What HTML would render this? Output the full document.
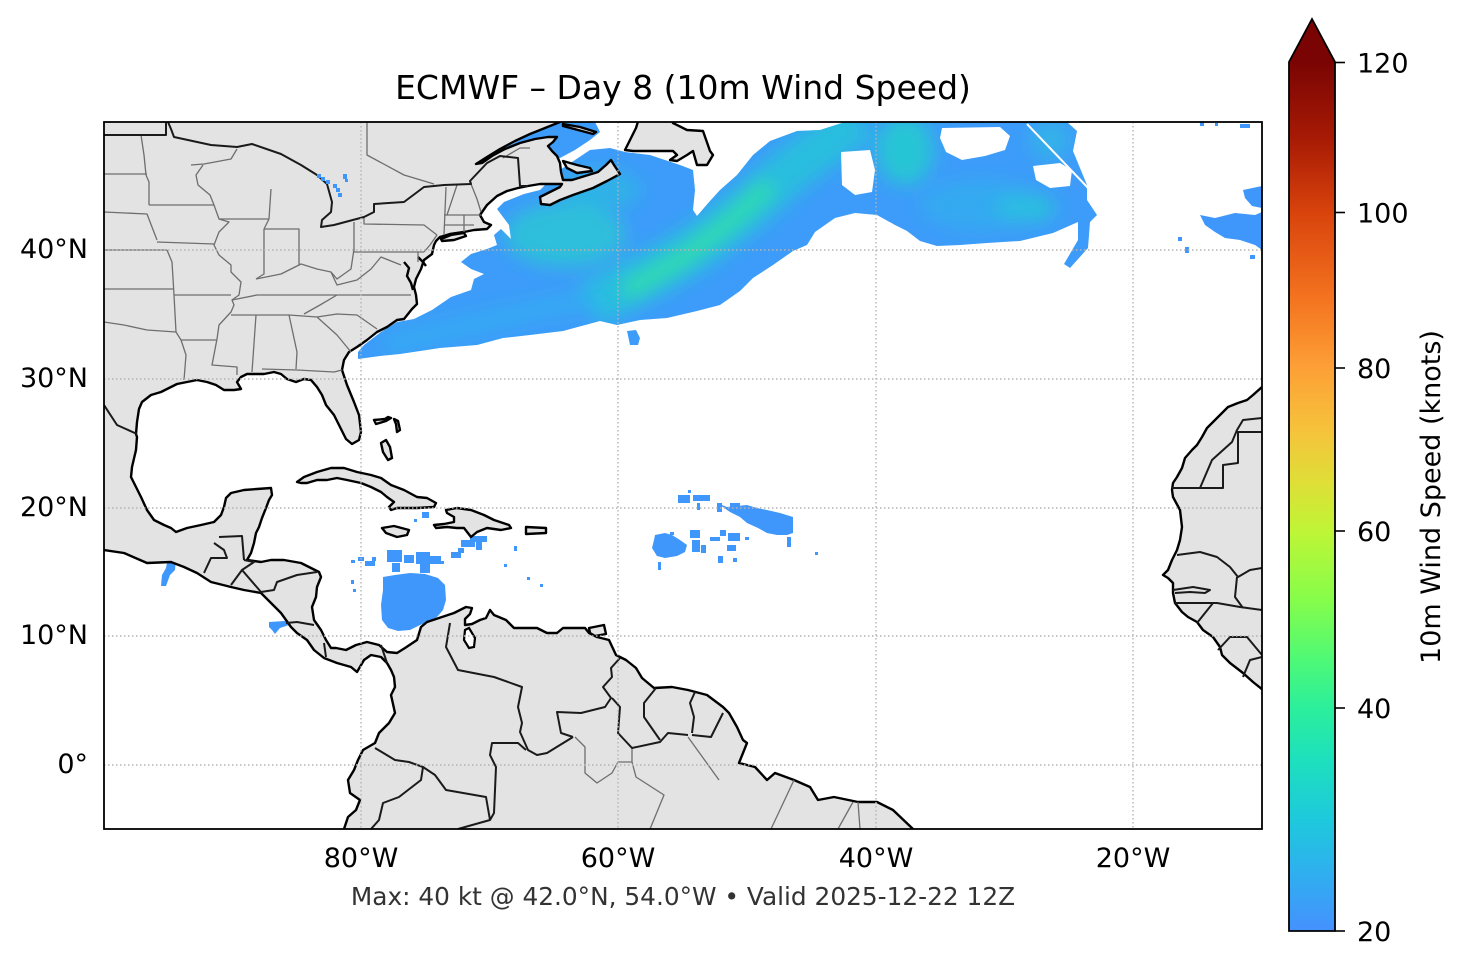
<!DOCTYPE html>
<html><head><meta charset="utf-8"><style>
html,body{margin:0;padding:0;background:#fff;}
svg{display:block;}
text{font-family:"DejaVu Sans","Liberation Sans",sans-serif;}
</style></head><body>
<svg width="1466" height="969" viewBox="0 0 1466 969" xmlns="http://www.w3.org/2000/svg">
<defs>
<clipPath id="ax"><rect x="104" y="122" width="1158" height="707"/></clipPath>
<clipPath id="wc"><polygon points="358,359 358,352 364,345 381,332 397,322 414,319 424,314 432,310 451,297 471,290 474,279 484,274 471,269 461,262 471,254 487,249 497,245 494,235 501,229 511,239 509,225 497,209 504,202 524,194 540,190 560,170 575,160 590,150 610,148 625,152 650,155 680,165 693,170 695,190 693,210 697,216 710,201 720,190 737,175 753,155 770,141 797,131 820,130 845,122 1067,122 1077,131 1073,151 1080,168 1087,185 1087,200 1097,215 1090,222 1088,248 1070,268 1064,264 1078,240 1078,222 1053,233 1020,241 987,243 960,245 937,246 920,241 907,231 895,225 877,215 855,213 835,218 815,232 807,245 793,251 773,265 753,278 740,291 720,305 697,311 667,318 640,320 617,325 600,321 563,331 530,335 503,338 477,345 440,348 420,351 400,354 380,356"/></clipPath>
<filter id="bl" x="-50%" y="-50%" width="200%" height="200%"><feGaussianBlur stdDeviation="9"/></filter>
<linearGradient id="cb" x1="0" y1="0" x2="0" y2="1">
<stop offset="0" stop-color="#7a0403"/>
<stop offset="0.090" stop-color="#a81b05"/>
<stop offset="0.173" stop-color="#d8430c"/>
<stop offset="0.274" stop-color="#f47420"/>
<stop offset="0.352" stop-color="#fda036"/>
<stop offset="0.423" stop-color="#f6c23b"/>
<stop offset="0.481" stop-color="#e0dd37"/>
<stop offset="0.540" stop-color="#bff536"/>
<stop offset="0.619" stop-color="#86fd4a"/>
<stop offset="0.688" stop-color="#4ef976"/>
<stop offset="0.743" stop-color="#2cef9b"/>
<stop offset="0.803" stop-color="#1de0bd"/>
<stop offset="0.872" stop-color="#1ec9dc"/>
<stop offset="0.941" stop-color="#31acf1"/>
<stop offset="1" stop-color="#4591fd"/>
</linearGradient>
</defs>
<rect x="0" y="0" width="1466" height="969" fill="#fff"/>

<g clip-path="url(#ax)">
<g fill="#3d9cf9">
<polygon points="358,359 358,352 364,345 381,332 397,322 414,319 424,314 432,310 451,297 471,290 474,279 484,274 471,269 461,262 471,254 487,249 497,245 494,235 501,229 511,239 509,225 497,209 504,202 524,194 540,190 560,170 575,160 590,150 610,148 625,152 650,155 680,165 693,170 695,190 693,210 697,216 710,201 720,190 737,175 753,155 770,141 797,131 820,130 845,122 1067,122 1077,131 1073,151 1080,168 1087,185 1087,200 1097,215 1090,222 1088,248 1070,268 1064,264 1078,240 1078,222 1053,233 1020,241 987,243 960,245 937,246 920,241 907,231 895,225 877,215 855,213 835,218 815,232 807,245 793,251 773,265 753,278 740,291 720,305 697,311 667,318 640,320 617,325 600,321 563,331 530,335 503,338 477,345 440,348 420,351 400,354 380,356"/>
<polygon points="500,150 520,140 540,128 552,122 595,122 600,132 590,140 575,150 560,158 540,160 515,155"/>
<polygon points="627,331 636,330 640,338 638,345 630,345"/>
</g>
<g clip-path="url(#wc)">
<g filter="url(#bl)">
<path d="M590,305 L650,275 L700,245 L745,210 L790,170 L830,140 L860,118" stroke="#22c8d6" stroke-width="46" fill="none" opacity="0.75"/>
<path d="M625,292 L680,260 L730,222 L770,185" stroke="#30e2a4" stroke-width="18" fill="none" opacity="0.85"/>
<path d="M385,345 L440,332 L500,318 L560,305 L600,298" stroke="#2db5ee" stroke-width="18" fill="none" opacity="0.6"/>
<ellipse cx="565" cy="235" rx="60" ry="32" fill="#26cbd0" opacity="0.75"/>
<ellipse cx="600" cy="190" rx="40" ry="20" fill="#2ac0dc" opacity="0.6"/>
<ellipse cx="905" cy="150" rx="28" ry="35" fill="#20d0cc" opacity="0.8"/>
<ellipse cx="1025" cy="208" rx="30" ry="14" fill="#22cdd0" opacity="0.8"/>
<ellipse cx="980" cy="205" rx="60" ry="25" fill="#2eb8ea" opacity="0.5"/>
<ellipse cx="1050" cy="140" rx="20" ry="20" fill="#2cc0e0" opacity="0.6"/>
</g>
</g>
<g fill="#fff">
<polygon points="942,128 1000,127 1010,136 1005,150 985,156 962,160 946,152 940,138"/>
<polygon points="1033,166 1060,163 1072,170 1070,186 1050,188 1036,180"/>
<polygon points="841,152 870,150 875,170 872,192 855,195 842,185"/>
</g>
<line x1="1027" y1="124" x2="1090" y2="190" stroke="#fff" stroke-width="2"/>

<g fill="#3f97fb">
<polygon points="1243,190 1262,186 1262,208 1252,206 1245,198"/>
<polygon points="1200,215 1215,218 1235,213 1255,215 1262,212 1262,250 1255,245 1240,240 1225,238 1215,232 1205,225"/>
<rect x="1178" y="237" width="4" height="4"/><rect x="1185" y="247" width="4" height="6"/><rect x="1250" y="255" width="5" height="4"/>
<rect x="1200" y="122" width="4" height="4"/><rect x="1215" y="123" width="3" height="3"/><rect x="1240" y="124" width="10" height="4"/>
<polygon points="655,535 665,533 672,535 680,540 687,545 685,552 677,556 665,558 657,556 652,548 654,540"/>
<polygon points="717,503 727,507 747,505 757,508 767,510 780,513 793,517 793,533 787,535 777,535 767,533 758,528 747,523 740,517 730,512"/>
<rect x="688" y="490" width="3" height="3"/><rect x="678" y="495" width="12" height="8"/><rect x="693" y="495" width="17" height="6"/>
<rect x="697" y="503" width="3" height="7"/><rect x="717" y="503" width="5" height="9"/><rect x="730" y="503" width="10" height="8"/>
<rect x="690" y="530" width="10" height="8"/><rect x="692" y="540" width="8" height="12"/><rect x="701" y="545" width="5" height="8"/>
<rect x="710" y="537" width="10" height="4"/><rect x="720" y="530" width="6" height="6"/><rect x="728" y="533" width="12" height="8"/>
<rect x="727" y="545" width="9" height="6"/><rect x="718" y="556" width="5" height="7"/><rect x="733" y="558" width="4" height="4"/>
<rect x="745" y="537" width="4" height="3"/><rect x="787" y="537" width="4" height="10"/><rect x="815" y="552" width="3" height="3"/>
<rect x="658" y="562" width="3" height="8"/><rect x="670" y="532" width="4" height="3"/>
<polygon points="383,577 395,575 410,573 425,574 438,578 445,585 446,600 443,610 437,617 428,622 420,625 410,630 398,631 388,628 382,620 381,605 383,590"/>
<rect x="351" y="560" width="4" height="3"/><rect x="358" y="557" width="6" height="4"/><rect x="365" y="561" width="10" height="5"/>
<rect x="372" y="557" width="4" height="4"/><rect x="351" y="580" width="3" height="4"/><rect x="353" y="589" width="3" height="3"/>
<rect x="387" y="550" width="15" height="12"/><rect x="404" y="555" width="10" height="8"/><rect x="416" y="552" width="14" height="12"/>
<rect x="430" y="556" width="11" height="8"/><rect x="392" y="563" width="8" height="9"/><rect x="420" y="564" width="10" height="9"/>
<rect x="451" y="552" width="10" height="6"/><rect x="458" y="548" width="6" height="5"/><rect x="461" y="540" width="14" height="7"/>
<rect x="470" y="536" width="17" height="6"/><rect x="476" y="542" width="6" height="8"/><rect x="422" y="512" width="7" height="6"/>
<rect x="414" y="519" width="3" height="3"/><rect x="514" y="546" width="3" height="5"/><rect x="504" y="564" width="3" height="3"/>
<rect x="527" y="577" width="3" height="3"/><rect x="540" y="584" width="3" height="3"/><rect x="441" y="561" width="3" height="3"/>
<polygon points="168,558 176,559 175,570 170,575 166,586 161,586 162,575 166,568"/>
<polygon points="269,622 285,621 291,619 289,625 280,628 275,634 272,630 269,627"/>
</g>

<g fill="#e3e3e3" stroke="#000" stroke-width="2.4" stroke-linejoin="round">
<polygon points="90,110 578,110 560,122 545,128 530,134 515,141 500,149 487,157 476,164 482,163 492,156 505,149 520,143 535,139 548,137 557,137 553,142 548,146 552,151 557,156 560,163 561,172 563,180 572,180 585,176 598,172 606,165 611,160 614,165 620,174 607,181 593,188 573,195 560,200 550,205 541,204 540,197 550,192 560,187 562,184 550,184 540,184 528,186 518,188 507,191 497,196 487,205 480,215 484,222 491,225 487,229 474,230 464,232 450,234 440,237 436,241 434,245 432,254 424,260 421,269 416,279 414,287 416,295 417,304 412,309 404,319 397,320 387,327 377,332 367,340 357,347 349,352 344,360 342,370 347,385 354,402 359,415 361,432 359,440 352,444 346,439 341,429 334,415 326,405 322,395 317,387 311,380 304,379 296,382 287,379 281,374 274,372 264,374 247,374 241,377 237,382 241,389 234,390 224,390 216,385 207,382 197,380 187,382 177,384 171,387 161,392 151,395 142,402 139,409 137,422 136,434 137,437 136,450 132,467 131,477 136,487 141,497 147,510 154,520 164,525 171,528 176,532 187,528 201,525 214,522 221,515 224,507 226,498 231,493 244,490 257,489 271,488 272,495 269,500 266,508 262,518 259,527 256,533 254,543 251,553 247,560 261,562 271,560 284,560 301,563 311,568 319,572 321,577 317,587 316,597 312,607 314,620 321,630 326,640 331,648 336,648 346,650 356,645 367,642 379,645 387,652 397,653 405,648 417,640 421,627 427,622 439,618 454,613 466,607 472,608 470,614 465,619 465,625 472,624 480,620 486,618 490,610 494,615 506,620 514,628 526,628 537,628 547,633 557,633 563,628 585,628 589,633 597,637 609,640 616,655 626,660 636,668 642,678 654,688 672,687 688,690 707,695 723,707 729,713 737,727 743,740 747,743 739,763 755,767 767,780 775,773 794,780 810,787 818,800 834,797 858,802 877,802 893,810 913,829 918,840 340,840 344,829 348,817 356,810 360,800 350,793 348,780 354,770 358,760 363,750 375,743 379,733 389,723 395,713 391,695 395,687 394,677 391,670 387,663 381,657 371,655 364,660 357,672 351,667 337,663 324,658 314,650 307,640 297,633 291,627 281,613 271,603 261,593 244,590 231,587 211,582 197,573 184,567 171,562 147,563 124,553 104,550 90,548"/>
<polygon points="1275,380 1262,387 1253,395 1247,400 1238,403 1228,407 1222,413 1215,420 1207,428 1202,437 1197,445 1192,450 1185,458 1182,468 1177,477 1173,483 1172,490 1173,497 1180,510 1182,527 1180,540 1177,550 1172,560 1168,570 1163,575 1168,578 1173,583 1173,593 1175,603 1182,612 1188,617 1197,622 1203,630 1213,637 1220,647 1222,655 1230,663 1243,673 1253,682 1263,690 1275,700"/>
<polygon points="625,150 630,140 636,128 640,115 675,115 673,123 687,130 703,131 710,151 713,155 707,165 697,165 693,151 687,155 677,161 670,160 677,155 673,151 653,151 633,151"/>
<polygon points="563,161 577,165 590,168 592,171 577,173 567,168"/>
<polygon points="563,124 580,127 596,132 593,134 578,130 563,126"/>
<polygon points="441,239 451,235 464,233 466,236 454,240 442,241"/>
<polygon points="297,482 304,477 317,472 331,468 344,468 357,472 371,475 381,478 391,485 404,490 417,497 427,498 436,503 434,507 417,508 397,508 391,510 389,507 394,502 387,497 381,492 371,487 361,483 347,480 337,478 327,480 317,480 307,483 301,483"/>
<polygon points="382,528 394,526 409,530 407,535 397,537 386,533"/>
<polygon points="446,510 457,508 471,510 484,515 494,520 509,525 511,528 501,530 487,528 477,532 471,537 464,528 457,528 447,527 436,528 434,525 444,524 454,522 454,517 447,513"/>
<polygon points="526,527 546,528 546,533 526,534"/>
<polygon points="374,420 385,419 388,417 391,418 386,421 376,424"/>
<polygon points="394,419 398,421 400,430 397,432 396,424"/>
<polygon points="381,443 386,440 390,447 392,458 388,460 383,452"/>
<polygon points="589,628 604,625 606,634 595,636 590,633"/>
</g>
<polygon points="465,630 469,628 475,638 474,647 469,648 464,640" fill="#fff" stroke="#000" stroke-width="2.2"/>
<g fill="none" stroke="#000" stroke-width="2.4">
<polyline points="404,262 409,268 407,276 411,283 413,290"/>
<polyline points="418,257 423,262 426,266"/>
</g>

<g fill="none" stroke="#6e6e6e" stroke-width="1.3" stroke-linejoin="round">
<polyline points="141,135 144,155 146,175 149,182 149,205"/>
<polyline points="104,174 147,174"/>
<polyline points="104,212 147,214 157,240"/>
<polyline points="104,250 167,250"/>
<polyline points="104,289 174,289"/>
<polyline points="104,322 124,325 147,330 176,332"/>
<polyline points="149,205 214,205"/>
<polyline points="157,242 214,244"/>
<polyline points="174,295 231,295"/>
<polyline points="181,340 217,340"/>
<polyline points="181,340 186,355 184,380"/>
<polyline points="167,250 172,262 174,295 176,332 181,340"/>
<polyline points="214,205 219,219 229,222 219,232 214,245 219,255 231,265 231,272 241,282 239,295 232,300 234,305 231,312 219,325 217,339 212,365 237,367 237,375"/>
<polyline points="214,205 210,195 198,185 196,175 203,165"/>
<polyline points="191,165 204,164 231,159 237,149"/>
<polyline points="219,219 269,219"/>
<polyline points="271,189 269,219 264,229"/>
<polyline points="264,229 299,229 299,265"/>
<polyline points="264,229 264,274 256,279"/>
<polyline points="256,279 281,274 301,264 317,269 331,272 337,279 351,269 354,249"/>
<polyline points="354,222 354,252 424,252"/>
<polyline points="331,272 337,285 357,280 371,269 381,257 401,265"/>
<polyline points="232,300 257,295 337,295 411,295"/>
<polyline points="231,315 289,315 317,317"/>
<polyline points="304,314 320,305 337,295"/>
<polyline points="256,315 252,372"/>
<polyline points="289,315 297,352 296,369"/>
<polyline points="262,369 297,370 334,372 342,370"/>
<polyline points="317,317 337,335 351,352"/>
<polyline points="317,317 337,314 357,315 377,329"/>
<polyline points="364,217 364,224 424,225 437,235"/>
<polyline points="446,187 444,235"/>
<polyline points="457,185 452,200 447,215"/>
<polyline points="471,184 477,199 481,212"/>
<polyline points="444,215 481,215"/>
<polyline points="444,225 474,225"/>
<polyline points="464,215 464,232"/>
<polyline points="437,235 430,245 424,252"/>
<polyline points="418,252 418,262"/>
<polyline points="367,122 367,155 404,175 434,184"/>
<polyline points="503,158 520,148 530,148"/>
<polyline points="575,737 585,747 585,773 597,783 612,773 618,762 632,762 632,748"/>
<polyline points="632,762 636,777 664,795 650,829"/>
<polyline points="688,737 719,780"/>
<polyline points="794,780 771,829"/>
<polyline points="853,802 838,829"/>
<polyline points="858,802 860,829"/>
</g>

<g fill="none" stroke="#1a1a1a" stroke-width="2" stroke-linejoin="round">
<polyline points="104,135 166,135 166,122"/>
<polyline points="168,122 171,129 174,137 211,145 237,147 252,144 281,154 301,165 317,175 327,184 332,202 331,212 322,220 321,227 334,225 364,217 374,212 374,204 404,202 424,187 444,185 471,184 470,181 487,163 500,156 518,158 520,186 528,186"/>
<polyline points="104,405 117,425 137,434"/>
<polyline points="219,537 242,536 244,560"/>
<polyline points="214,543 224,550 227,558 211,558 204,573"/>
<polyline points="244,560 254,562 242,570 231,585"/>
<polyline points="242,570 261,592 274,590 277,582 297,575 317,572"/>
<polyline points="286,623 297,622 314,625"/>
<polyline points="324,643 326,657"/>
<polyline points="381,645 387,663"/>
<polyline points="450,623 446,647 458,670 494,677 522,687 518,707 522,723 520,732 528,750 537,755 547,753 573,737"/>
<polyline points="620,658 611,668 612,677 603,687 611,698 605,707 581,713 557,712 561,733 573,737"/>
<polyline points="526,750 518,743 492,743 490,755 496,767 494,813 490,820 458,829"/>
<polyline points="375,748 395,760 409,762 423,767 435,775 446,790 486,797 490,820"/>
<polyline points="423,767 421,780 399,797 383,803 379,820 371,829"/>
<polyline points="656,688 644,703 644,717 660,740"/>
<polyline points="612,698 620,707 618,733 632,748 660,742 668,733 688,735"/>
<polyline points="695,692 690,703 694,717 692,733"/>
<polyline points="692,735 711,737 723,713"/>
<polyline points="1172,488 1223,488 1223,465 1238,463 1238,432 1262,432"/>
<polyline points="1200,488 1212,460 1232,442 1237,430 1243,420 1262,418"/>
<polyline points="1177,555 1200,552 1217,557 1230,567 1238,577 1250,570 1262,568"/>
<polyline points="1173,590 1193,587 1210,590 1205,593 1190,592 1175,593"/>
<polyline points="1175,603 1217,603 1240,607 1262,610"/>
<polyline points="1237,577 1235,597 1243,608"/>
<polyline points="1197,623 1213,603"/>
<polyline points="1218,650 1230,637 1247,637 1262,655"/>
<polyline points="1243,677 1250,660 1262,657"/>
</g>

<g fill="#3f97fb">
<rect x="317" y="174" width="4" height="4"/><rect x="321" y="177" width="4" height="4"/><rect x="326" y="180" width="4" height="4"/>
<rect x="333" y="184" width="4" height="4"/><rect x="336" y="188" width="4" height="4"/><rect x="338" y="193" width="4" height="4"/>
<rect x="343" y="174" width="4" height="5"/><rect x="345" y="179" width="3" height="3"/>
</g>

<g stroke="#b4b4b4" stroke-width="1.4" stroke-dasharray="1.5,2.5" fill="none">
<line x1="361" y1="122" x2="361" y2="829"/>
<line x1="618" y1="122" x2="618" y2="829"/>
<line x1="876" y1="122" x2="876" y2="829"/>
<line x1="1133" y1="122" x2="1133" y2="829"/>
<line x1="104" y1="250" x2="1262" y2="250"/>
<line x1="104" y1="379" x2="1262" y2="379"/>
<line x1="104" y1="508" x2="1262" y2="508"/>
<line x1="104" y1="636" x2="1262" y2="636"/>
<line x1="104" y1="765" x2="1262" y2="765"/>
</g>
</g>

<rect x="104" y="122" width="1158" height="707" fill="none" stroke="#000" stroke-width="1.8"/>

<text x="683" y="99" font-size="33" text-anchor="middle" fill="#000">ECMWF – Day 8 (10m Wind Speed)</text>

<g font-size="27" fill="#000">
<text x="361" y="867" text-anchor="middle">80°W</text>
<text x="618" y="867" text-anchor="middle">60°W</text>
<text x="876" y="867" text-anchor="middle">40°W</text>
<text x="1133" y="867" text-anchor="middle">20°W</text>
<text x="88" y="258" text-anchor="end">40°N</text>
<text x="88" y="387" text-anchor="end">30°N</text>
<text x="88" y="516" text-anchor="end">20°N</text>
<text x="88" y="644" text-anchor="end">10°N</text>
<text x="88" y="773" text-anchor="end">0°</text>
</g>

<text x="683" y="905" font-size="24.8" text-anchor="middle" fill="#333">Max: 40 kt @ 42.0°N, 54.0°W • Valid 2025-12-22 12Z</text>

<rect x="1289" y="62" width="46" height="869" fill="url(#cb)"/>
<polygon points="1289,62 1312,19 1335,62" fill="#7a0403"/>
<polygon points="1289,931 1289,62 1312,19 1335,62 1335,931" fill="none" stroke="#000" stroke-width="1.8" stroke-linejoin="miter"/>
<g stroke="#000" stroke-width="1.6">
<line x1="1335" y1="62.5" x2="1345" y2="62.5"/>
<line x1="1335" y1="212.5" x2="1345" y2="212.5"/>
<line x1="1335" y1="368" x2="1345" y2="368"/>
<line x1="1335" y1="531" x2="1345" y2="531"/>
<line x1="1335" y1="708" x2="1345" y2="708"/>
<line x1="1335" y1="931" x2="1345" y2="931"/>
</g>
<g font-size="27" fill="#000">
<text x="1357" y="72.5">120</text>
<text x="1357" y="222.5">100</text>
<text x="1357" y="378">80</text>
<text x="1357" y="541">60</text>
<text x="1357" y="718">40</text>
<text x="1357" y="941">20</text>
</g>
<text transform="translate(1440,497) rotate(-90)" font-size="27" text-anchor="middle" fill="#000">10m Wind Speed (knots)</text>
</svg>
</body></html>
